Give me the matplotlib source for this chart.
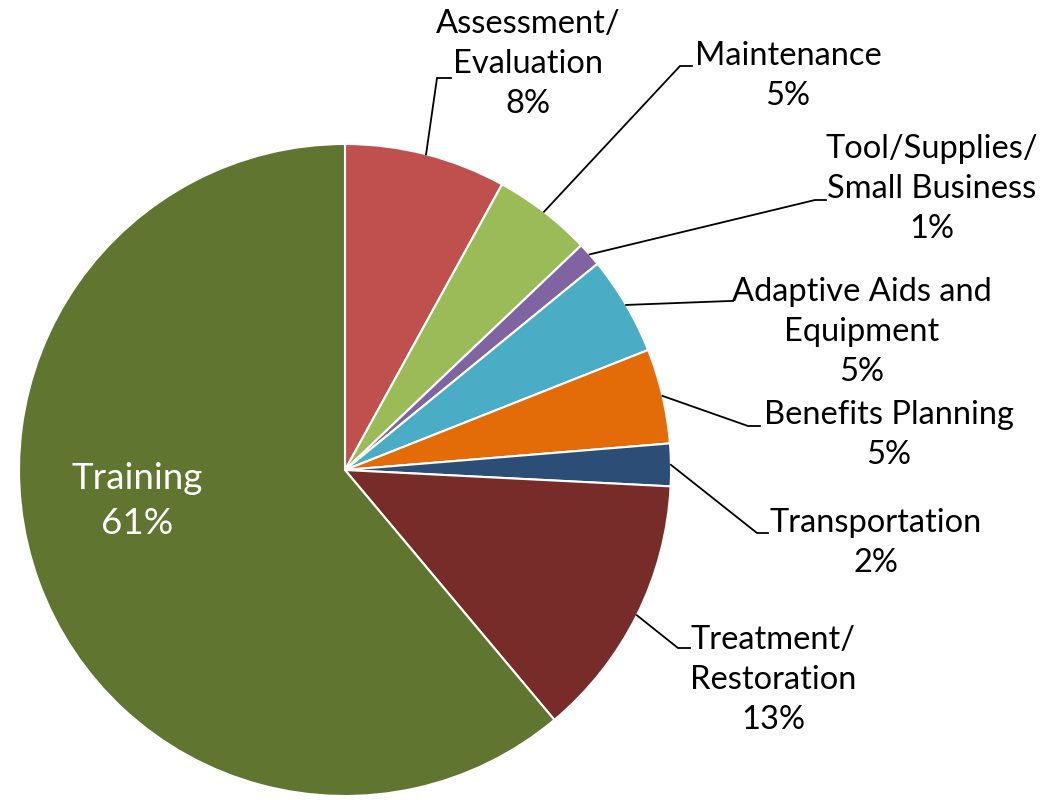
import numpy as np
import matplotlib
matplotlib.use("Agg")
import matplotlib.pyplot as plt

# slice data, clockwise from 12 o'clock
categories = ["Assessment/\nEvaluation", "Maintenance", "Tool/Supplies/\nSmall Business",
              "Adaptive Aids and\nEquipment", "Benefits Planning", "Transportation",
              "Treatment/\nRestoration", "Training"]
shares = [8.0, 4.9, 1.2, 4.9, 4.7, 2.1, 13.1, 61.1]
pct_labels = ["8%", "5%", "1%", "5%", "5%", "2%", "13%", "61%"]
colors = ["#C0504D", "#9BBB59", "#8064A2", "#4BACC6", "#E36C09", "#2C4D75", "#772C2A", "#5F7530"]

# label layout in pixel space (y measured from top)
text_pos = [(528, 64), (788, 76), (932, 189), (862, 332), (889, 435), (876, 543), (773, 680), (137, 501)]
elbows = [(437, 78, 451), (680, 66, 692), (815, 200, 826), (730, 301, 733),
          (748, 426, 760), (757, 533, 768), (678, 648, 690), None]

W, H = 1041, 800
cx, cy, R = 345, 470, 326

plt.rcParams['font.family'] = ['Lato', 'DejaVu Sans']
fig = plt.figure(figsize=(W / 100, H / 100), dpi=100)
ax = fig.add_axes([0, 0, 1, 1])

wedges, _ = ax.pie(shares, colors=colors, startangle=90, counterclock=False,
                   radius=R, center=(cx, H - cy), frame=True,
                   wedgeprops=dict(edgecolor='white', linewidth=1.5))
ax.set_xlim(0, W)
ax.set_ylim(0, H)
ax.set_aspect('equal')
ax.axis('off')

for w, name, pct, (tx, ty), elb in zip(wedges, categories, pct_labels, text_pos, elbows):
    if elb is None:
        ax.text(tx, H - ty, name + "\n" + pct, ha='center', va='center',
                fontsize=26.5, color='white', linespacing=1.45)
        continue
    mid = np.deg2rad((w.theta1 + w.theta2) / 2)
    sx = cx + R * np.cos(mid)
    sy = (H - cy) + R * np.sin(mid)
    ex, ey, hx = elb
    ax.plot([sx, ex, hx], [sy, H - ey, H - ey], color='black', lw=1.3, solid_joinstyle='miter')
    ax.text(tx, H - ty, name + "\n" + pct, ha='center', va='center',
            fontsize=23.5, color='black', linespacing=1.43)

fig.savefig("out.png", dpi=100)
